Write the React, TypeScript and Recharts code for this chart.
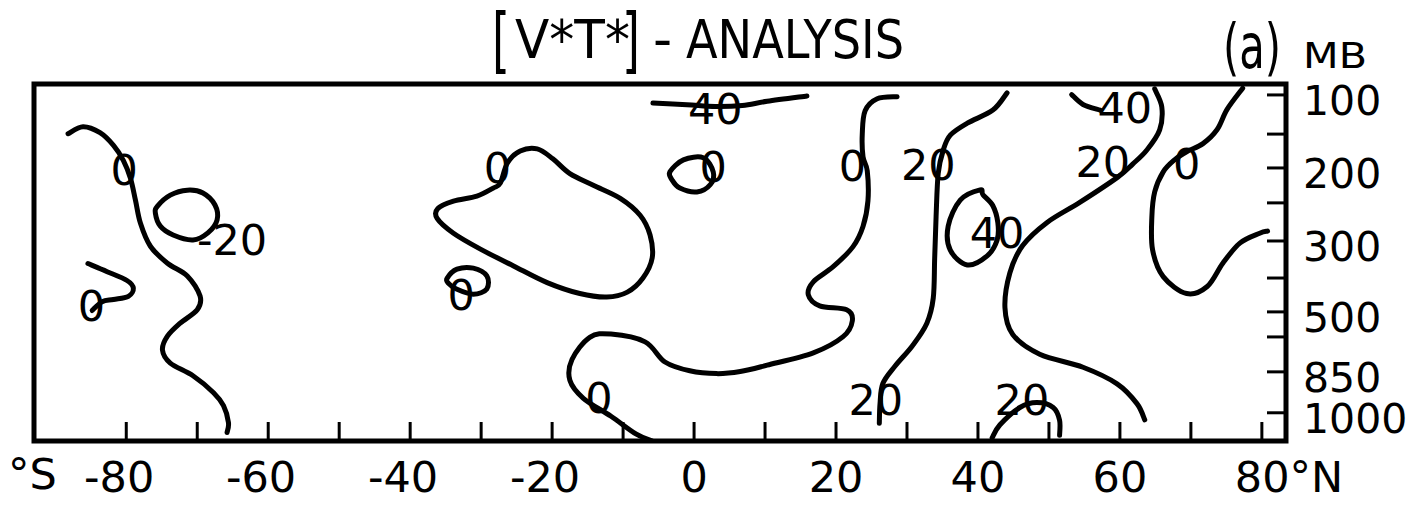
import React from 'react';
import { ComposedChart, Line, Scatter, XAxis, YAxis, ReferenceArea } from 'recharts';

const FONT = "'DejaVu Sans', sans-serif";
const INK = '#000';

// Latitude ticks every 10 degrees; multiples of 20 carry a label.
const latitudeTicks = [-80, -70, -60, -50, -40, -30, -20, -10, 0, 10, 20, 30, 40, 50, 60, 70, 80];

// Pressure levels (mb) and the row each one occupies on the vertical scale.
const pressureLevels = [100, 150, 200, 250, 300, 400, 500, 700, 850, 1000];
const levelRows = [0.11, 1.22, 2.18, 3.17, 4.25, 5.3, 6.26, 6.97, 7.96, 9.12];
const labelledLevels = [100, 200, 300, 500, 850, 1000];

const latDomain: [number, number] = [-93, 83.4];
const rowDomain: [number, number] = [-0.2, 9.92];

// Isolines as [latitude, row] pairs.
const southPolarZero = [
  [-88.2, 1.21], [-86.1, 1.01], [-83.7, 1.18], [-81.8, 1.54], [-80.4, 1.97], [-79.4, 2.48],
  [-78.7, 3.1], [-78.0, 3.75], [-76.6, 4.4], [-74.2, 4.88], [-71.4, 5.24], [-69.6, 5.81],
  [-70.0, 6.2], [-72.4, 6.58], [-74.2, 6.95], [-74.9, 7.34], [-73.8, 7.71], [-70.6, 8.07],
  [-67.7, 8.55], [-66.3, 8.92], [-65.6, 9.4], [-65.8, 9.68],
];
const southMinus20Cell = [
  [-75.6, 3.26], [-73.8, 2.95], [-71.4, 2.81], [-69.2, 2.89], [-67.5, 3.23], [-67.2, 3.65],
  [-68.5, 4.02], [-70.6, 4.22], [-73.4, 4.08], [-75.2, 3.83], [-75.9, 3.46],
];
const polarHookZero = [
  [-85.4, 4.89], [-82.7, 5.12], [-79.9, 5.37], [-79.0, 5.59], [-79.7, 5.82], [-81.8, 5.91],
  [-83.4, 5.97], [-84.8, 6.22],
];
const subtropicalZeroCell = [
  [-26.3, 2.04], [-24.5, 1.7], [-22.1, 1.64], [-19.9, 1.92], [-17.5, 2.34], [-14.2, 2.67],
  [-10.4, 3.04], [-7.6, 3.52], [-6.2, 4.08], [-5.9, 4.73], [-7.2, 5.3], [-9.4, 5.7],
  [-12.3, 5.84], [-16.1, 5.74], [-20.7, 5.43], [-25.5, 4.95], [-30.1, 4.48], [-33.9, 4.03],
  [-36.2, 3.61], [-36.1, 3.33], [-33.9, 3.12], [-30.6, 2.98], [-28.3, 2.75], [-27.3, 2.61],
];
const smallZeroCellSouth = [
  [-34.8, 5.31], [-33.4, 5.05], [-31.1, 5.02], [-29.2, 5.24], [-29.2, 5.61], [-31.1, 5.76],
  [-33.4, 5.62], [-34.6, 5.45],
];
const smallZeroCellEquator = [
  [-3.4, 2.29], [-1.5, 1.95], [1.3, 1.89], [2.7, 2.29], [2.3, 2.65], [0.4, 2.86],
  [-2.0, 2.75], [-3.1, 2.52],
];
const equatorial40 = [
  [-5.8, 0.34], [-1.0, 0.39], [3.0, 0.44], [6.8, 0.41], [10.3, 0.29], [15.9, 0.14],
];
const tropicalZero = [
  [28.6, 0.16], [25.8, 0.22], [24.1, 0.56], [23.7, 1.21], [23.8, 1.86], [24.4, 2.26],
  [24.5, 3.11], [23.8, 3.84], [22.4, 4.41], [19.6, 4.98], [16.8, 5.41], [16.1, 5.78],
  [17.7, 6.09], [21.5, 6.2], [22.3, 6.51], [21.0, 6.96], [16.8, 7.42], [10.3, 7.77],
  [6.5, 7.95], [3.2, 8.01], [-0.6, 7.93], [-4.1, 7.68], [-6.9, 7.11], [-11.7, 6.89],
  [-14.7, 6.98], [-17.2, 7.61], [-17.5, 8.2], [-15.6, 8.71], [-11.7, 9.22], [-8.2, 9.72],
  [-5.9, 9.92],
];
const northern20 = [
  [44.1, 0.05], [42.1, 0.54], [38.5, 0.91], [36.1, 1.25], [35.1, 1.68], [34.4, 2.33],
  [34.1, 3.55], [33.9, 4.74], [33.7, 5.87], [32.8, 6.58], [30.8, 7.21], [28.3, 7.8],
  [26.6, 8.29], [26.2, 8.86], [26.1, 9.42],
];
const northern40Cell = [
  [40.3, 2.8], [37.5, 3.09], [35.8, 3.83], [36.1, 4.51], [38.5, 4.93], [41.3, 4.67],
  [42.7, 4.22], [42.8, 3.73], [42.1, 3.25], [40.7, 2.94],
];
const midlatitude20 = [
  [64.9, -0.06], [65.9, 0.45], [65.6, 1.1], [63.8, 1.67], [61.8, 2.07], [59.7, 2.44],
  [54.4, 3.15], [49.7, 3.73], [46.3, 4.38], [44.5, 5.15], [43.8, 6.14], [44.9, 6.9],
  [48.7, 7.46], [54.8, 7.83], [59.6, 8.3], [62.4, 8.86], [63.5, 9.32],
];
const upper40Hook = [[53.2, 0.1], [54.8, 0.38], [57.2, 0.54]];
const arcticZero = [
  [77.3, -0.08], [75.1, 0.52], [73.7, 1.09], [71.7, 1.49], [69.4, 1.72], [67.7, 1.95],
  [66.1, 2.29], [64.9, 2.86], [64.5, 3.57], [64.6, 4.5], [66.1, 5.26], [69.4, 5.74],
  [72.3, 5.54], [74.5, 4.88], [76.9, 4.31], [79.7, 4.03], [80.8, 3.97],
];
const surface20Arc = [
  [42.0, 9.83], [43.1, 9.46], [45.9, 8.97], [48.3, 8.83], [50.6, 8.97], [51.5, 9.33], [51.5, 9.76],
];

// Isoline value labels.
const isolineLabels = [
  { lat: -80.3, row: 2.25, text: '0' },
  { lat: -65.1, row: 4.22, text: '-20' },
  { lat: -84.9, row: 6.08, text: '0' },
  { lat: -27.7, row: 2.18, text: '0' },
  { lat: -32.8, row: 5.79, text: '0' },
  { lat: 2.7, row: 2.14, text: '0' },
  { lat: 3.0, row: 0.5, text: '40' },
  { lat: 22.3, row: 2.12, text: '0' },
  { lat: -13.4, row: 8.71, text: '0' },
  { lat: 33.0, row: 2.1, text: '20' },
  { lat: 25.6, row: 8.77, text: '20' },
  { lat: 42.7, row: 4.02, text: '40' },
  { lat: 57.6, row: 2.01, text: '20' },
  { lat: 60.7, row: 0.48, text: '40' },
  { lat: 69.4, row: 2.06, text: '0' },
  { lat: 46.2, row: 8.75, text: '20' },
];

const toPoints = (pairs: number[][]) => pairs.map(([lat, row]) => ({ lat, row }));

const isolines = [
  { id: 'southPolarZero', pairs: southPolarZero, closed: false },
  { id: 'southMinus20Cell', pairs: southMinus20Cell, closed: true },
  { id: 'polarHookZero', pairs: polarHookZero, closed: false },
  { id: 'subtropicalZeroCell', pairs: subtropicalZeroCell, closed: true },
  { id: 'smallZeroCellSouth', pairs: smallZeroCellSouth, closed: true },
  { id: 'smallZeroCellEquator', pairs: smallZeroCellEquator, closed: true },
  { id: 'equatorial40', pairs: equatorial40, closed: false },
  { id: 'tropicalZero', pairs: tropicalZero, closed: false },
  { id: 'northern20', pairs: northern20, closed: false },
  { id: 'northern40Cell', pairs: northern40Cell, closed: true },
  { id: 'midlatitude20', pairs: midlatitude20, closed: false },
  { id: 'upper40Hook', pairs: upper40Hook, closed: false },
  { id: 'arcticZero', pairs: arcticZero, closed: false },
  { id: 'surface20Arc', pairs: surface20Arc, closed: false },
];

// Catmull-Rom spline through every point; optionally closed into a loop.
type Pt = [number, number];
const catmullRom = (closed: boolean) => (ctx: any) => {
  let pts: Pt[] = [];
  return {
    areaStart() {},
    areaEnd() {},
    lineStart() {
      pts = [];
    },
    point(x: number, y: number) {
      pts.push([+x, +y]);
    },
    lineEnd() {
      const n = pts.length;
      if (n === 0) return;
      const at = (i: number): Pt =>
        closed ? pts[((i % n) + n) % n] : pts[Math.max(0, Math.min(n - 1, i))];
      ctx.moveTo(pts[0][0], pts[0][1]);
      const segments = closed ? n : n - 1;
      for (let i = 0; i < segments; i++) {
        const p0 = at(i - 1);
        const p1 = at(i);
        const p2 = at(i + 1);
        const p3 = at(i + 2);
        ctx.bezierCurveTo(
          p1[0] + (p2[0] - p0[0]) / 6,
          p1[1] + (p2[1] - p0[1]) / 6,
          p2[0] - (p3[0] - p1[0]) / 6,
          p2[1] - (p3[1] - p1[1]) / 6,
          p2[0],
          p2[1],
        );
      }
      if (closed) ctx.closePath();
    },
  };
};
const openCurve = catmullRom(false);
const closedCurve = catmullRom(true);

const LatitudeTick = (props: any) => {
  const { x, y, payload } = props;
  const v = payload.value as number;
  const base = y + 51;
  let label: React.ReactNode = null;
  if (v % 20 === 0) {
    if (v === 80) {
      label = (
        <text x={x - 27} y={base} textAnchor="start" fontFamily={FONT} fontSize={43} fill={INK}>
          80°N
        </text>
      );
    } else if (v < 0) {
      label = (
        <text x={x + 28} y={base} textAnchor="end" fontFamily={FONT} fontSize={43} fill={INK}>
          {String(v)}
        </text>
      );
    } else {
      label = (
        <text x={x} y={base} textAnchor="middle" fontFamily={FONT} fontSize={43} fill={INK}>
          {String(v)}
        </text>
      );
    }
  }
  return (
    <g>
      <line x1={x} x2={x} y1={y} y2={y - 19} stroke={INK} strokeWidth={3} />
      {label}
    </g>
  );
};

const LevelTick = (props: any) => {
  const { x, y, payload } = props;
  const idx = levelRows.findIndex((r) => Math.abs(r - payload.value) < 1e-6);
  const p = pressureLevels[idx];
  return (
    <g>
      <line x1={x} x2={x - 19} y1={y} y2={y} stroke={INK} strokeWidth={3} />
      {labelledLevels.includes(p) && (
        <text x={x + 17} y={y + 20} textAnchor="start" fontFamily={FONT} fontSize={41} fill={INK}>
          {String(p)}
        </text>
      )}
    </g>
  );
};

const IsolineLabel = (props: any) => {
  const { cx, cy, payload } = props;
  return (
    <text x={cx} y={cy + 15} textAnchor="middle" fontFamily={FONT} fontSize={43} fill={INK}>
      {payload.text}
    </text>
  );
};

export default function App() {
  return (
    <div style={{ position: 'absolute', left: 0, top: 0, width: 1412, height: 506, background: '#fff' }}>
      <ComposedChart width={1412} height={506} margin={{ top: 84, right: 6, bottom: 5, left: 34 }}>
        <XAxis
          dataKey="lat"
          type="number"
          domain={latDomain}
          allowDataOverflow
          ticks={latitudeTicks}
          interval={0}
          height={60}
          axisLine={false}
          tickLine={false}
          tickSize={0}
          tickMargin={0}
          tick={<LatitudeTick />}
        />
        <YAxis
          type="number"
          orientation="right"
          reversed
          domain={rowDomain}
          allowDataOverflow
          ticks={levelRows}
          interval={0}
          width={120}
          axisLine={false}
          tickLine={false}
          tickSize={0}
          tickMargin={0}
          tick={<LevelTick />}
        />
        <ReferenceArea
          x1={latDomain[0]}
          x2={latDomain[1]}
          y1={rowDomain[0]}
          y2={rowDomain[1]}
          fill="none"
          stroke={INK}
          strokeWidth={5}
          ifOverflow="visible"
        />
        {isolines.map((c) => (
          <Line
            key={c.id}
            data={toPoints(c.pairs)}
            dataKey="row"
            type={(c.closed ? closedCurve : openCurve) as any}
            stroke={INK}
            strokeWidth={5}
            strokeLinecap="round"
            strokeLinejoin="round"
            fill="none"
            dot={false}
            activeDot={false}
            isAnimationActive={false}
          />
        ))}
        <Scatter data={isolineLabels} dataKey="row" shape={<IsolineLabel />} isAnimationActive={false} />
      </ComposedChart>
      <svg
        width={1412}
        height={506}
        style={{ position: 'absolute', left: 0, top: 0, pointerEvents: 'none' }}
        fontFamily={FONT}
        fill={INK}
      >
        <text x={492} y={64} fontSize={72} textLength={18} lengthAdjust="spacingAndGlyphs">[</text>
        <text x={515} y={58} fontSize={53} textLength={115} lengthAdjust="spacingAndGlyphs">V*T*</text>
        <text x={622} y={64} fontSize={72} textLength={18} lengthAdjust="spacingAndGlyphs">]</text>
        <text x={653} y={58} fontSize={53}>-</text>
        <text x={686} y={58} fontSize={53} textLength={218} lengthAdjust="spacingAndGlyphs">ANALYSIS</text>
        <text x={1223} y={68} fontSize={62} textLength={58} lengthAdjust="spacingAndGlyphs">(a)</text>
        <text x={1303} y={68} fontSize={36} textLength={64} lengthAdjust="spacingAndGlyphs">MB</text>
        <text x={8} y={489} fontSize={43}>°S</text>
      </svg>
    </div>
  );
}
